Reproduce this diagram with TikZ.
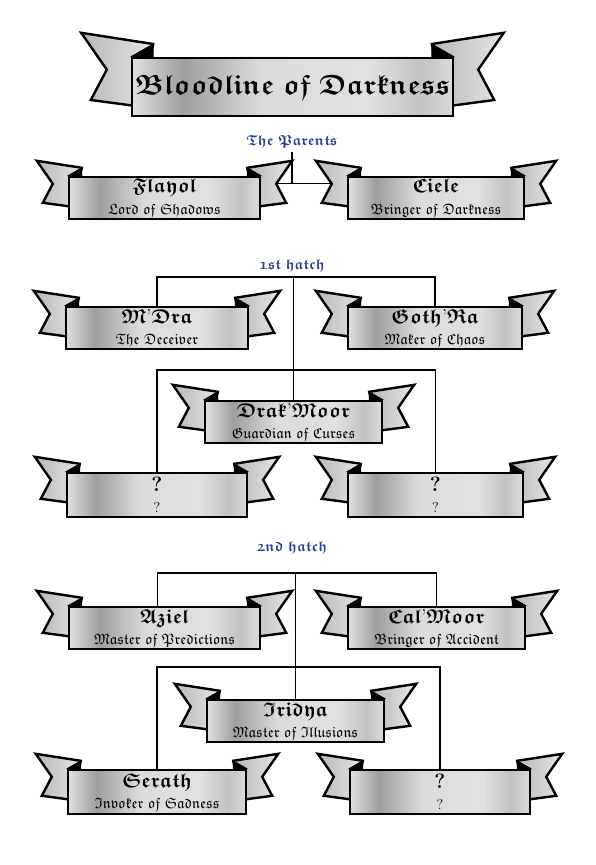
\documentclass[tikz,border=0pt]{standalone}
\usepackage{amsmath,amssymb}
\usetikzlibrary{backgrounds,calc}

\definecolor{hatchblue}{HTML}{2B3C93}
\pgfdeclarehorizontalshading{silver}{100bp}{color(0bp)=(black!12); color(25bp)=(black!12);
  color(33bp)=(black!38); color(45bp)=(black!14); color(62bp)=(black!12);
  color(70bp)=(black!24); color(75bp)=(black!14); color(100bp)=(black!14)}

\tikzset{
  banner/.style={draw, line width=2.4pt, shade, shading=silver, align=center,
    inner sep=1pt, minimum height=42, font=\fontsize{20}{21}\selectfont},
  tail/.style={draw, line width=2.4pt, line join=miter, left color=black!28, right color=black!10},
  fold/.style={fill=black, draw, line width=0.8pt, line join=round},
  link/.style={line width=1.2pt},
  hatch/.style={text=hatchblue, font=\fontsize{14.5}{17}\selectfont},
}

% tails and folds behind a banner node
\newcommand\ribbon[2][1]{%
  \begin{scope}[on background layer, shift={(#2.north west)}, scale=#1]
    \draw[tail] (14,-8) -- (-31,-15) -- (-15,8) -- (-25,27) -- (5,31) -- cycle;
    \fill[fold] (0,0) -- (14,-8) -- (14,2) -- cycle;
    \coordinate (#2-ln) at (-15,8);
  \end{scope}
  \begin{scope}[on background layer, shift={(#2.north east)}, xscale=-#1, yscale=#1]
    \draw[tail] (14,-8) -- (-31,-15) -- (-15,8) -- (-25,27) -- (5,31) -- cycle;
    \fill[fold] (0,0) -- (14,-8) -- (14,2) -- cycle;
    \coordinate (#2-rn) at (-15,8);
  \end{scope}}
\newcommand\bl[1]{\ensuremath{\boldsymbol{\mathfrak{#1}}}}
\newcommand\epithet[1]{{\fontsize{15}{17}\selectfont\ensuremath{\mathfrak{#1}}}}

\begin{document}
\begin{tikzpicture}[x=1pt,y=-1pt]
\useasboundingbox (0,0) rectangle (596,865);

\node[banner, minimum width=321, minimum height=58, font=\fontsize{28}{34}\selectfont]
  (title) at (292.5,87) {\bl{Bloodline\ of\ Darkness}};
\ribbon[1.6]{title}

% the parents
\node[hatch] (parents) at (292,142) {\bl{The\ Parents}};
\node[banner, minimum width=191] (flayol) at (164.5,198) {\bl{Flayol}\\\epithet{Lord\ of\ Shadows}};
\node[banner, minimum width=176] (ciele) at (436,198) {\bl{Ciele}\\\epithet{Bringer\ of\ Darkness}};
\ribbon{flayol}
\ribbon{ciele}
\draw[link] (flayol-rn) -- (ciele-ln);
\draw[link] (parents.south) -- (parents.south |- flayol-rn);

% 1st hatch
\node[hatch] (hatch1) at (292,266) {\bl{1st\ hatch}};
\coordinate (h1) at (293.5,277);
\coordinate (h1b) at (293.5,370);
\node[banner, minimum width=182] (mdra) at (157,328) {\bl{M}'\bl{Dra}\\\epithet{The\ Deceiver}};
\node[banner, minimum width=174] (gothra) at (435,328) {\bl{Goth}'\bl{Ra}\\\epithet{Maker\ of\ Chaos}};
\node[banner, minimum width=177] (drakmoor) at (293.5,422) {\bl{Drak}'\bl{Moor}\\\epithet{Guardian\ of\ Curses}};
\node[banner, minimum width=180, minimum height=44] (q1) at (157,495) {\bl{?}\\\epithet{?}};
\node[banner, minimum width=175, minimum height=44] (q2) at (435.5,495) {\bl{?}\\\epithet{?}};
\ribbon{mdra}
\ribbon{gothra}
\ribbon{drakmoor}
\ribbon{q1}
\ribbon{q2}
\draw[link] (mdra.north) |- (h1) -| (gothra.north);
\draw[link] (h1) -- (drakmoor.north);
\draw[link] (q1.north) |- (h1b) -| (q2.north);

% 2nd hatch
\node[hatch] (hatch2) at (292,548) {\bl{2nd\ hatch}};
\coordinate (h2) at (295.5,573);
\coordinate (h2b) at (295.5,667);
\node[banner, minimum width=191] (aziel) at (164.5,628) {\bl{Aziel}\\\epithet{Master\ of\ Predictions}};
\node[banner, minimum width=177] (calmoor) at (436.5,628) {\bl{Cal}'\bl{Moor}\\\epithet{Bringer\ of\ Accident}};
\node[banner, minimum width=177] (iridya) at (295.5,721) {\bl{Iridya}\\\epithet{Master\ of\ Illusions}};
\node[banner, minimum width=178, minimum height=44] (serath) at (157,792) {\bl{Serath}\\\epithet{Invoker\ of\ Sadness}};
\node[banner, minimum width=180, minimum height=44] (q3) at (440,792) {\bl{?}\\\epithet{?}};
\ribbon{aziel}
\ribbon{calmoor}
\ribbon{iridya}
\ribbon{serath}
\ribbon{q3}
\draw[link] ([xshift=-7pt]aziel.north) |- (h2) -| (calmoor.north);
\draw[link] (h2) -- (iridya.north);
\draw[link] (serath.north) |- (h2b) -| (q3.north);
\end{tikzpicture}
\end{document}
